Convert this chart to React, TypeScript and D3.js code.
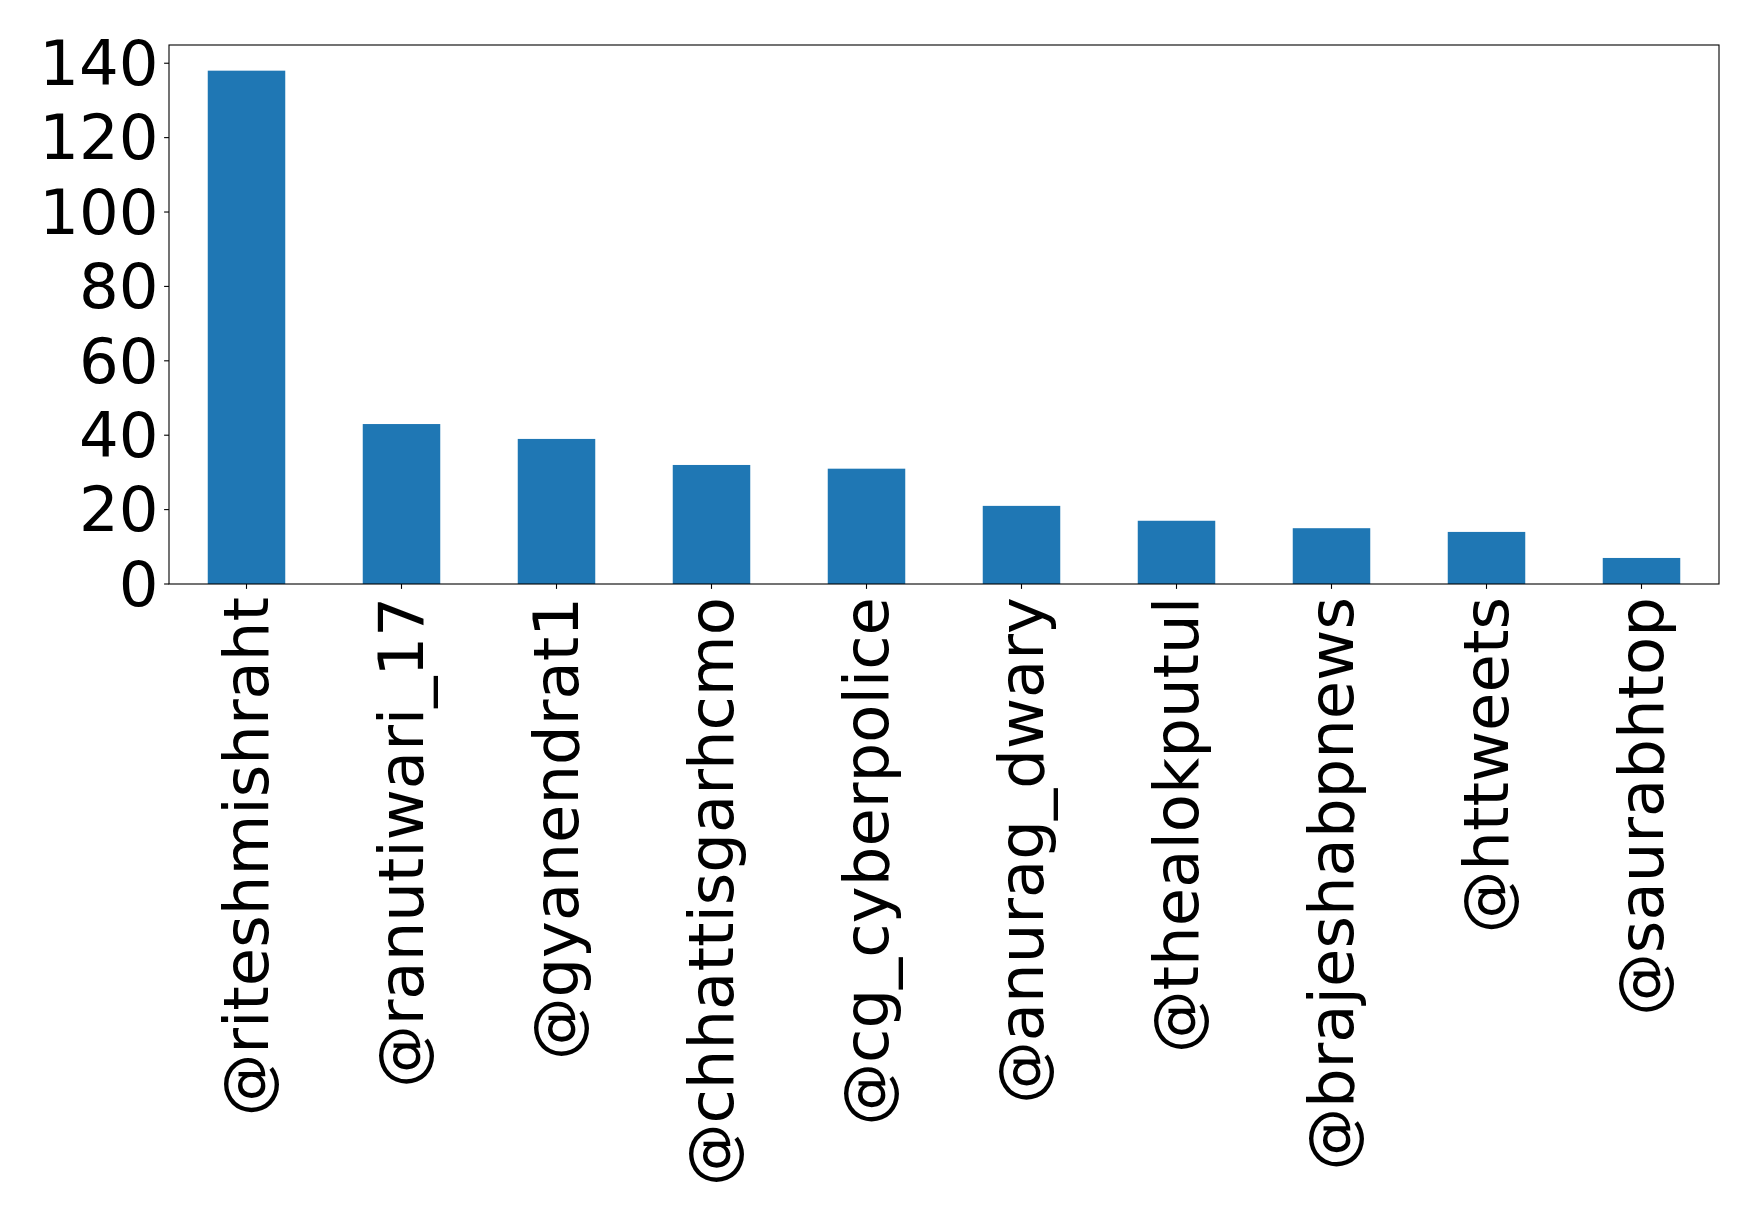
import * as d3 from 'd3'

const handles = [
  '@riteshmishraht',
  '@ranutiwari_17',
  '@gyanendrat1',
  '@chhattisgarhcmo',
  '@cg_cyberpolice',
  '@anurag_dwary',
  '@thealokputul',
  '@brajeshabpnews',
  '@httweets',
  '@saurabhtop',
]
const counts = [138, 43, 39, 32, 31, 21, 17, 15, 14, 7]
const yTicks = [0, 20, 40, 60, 80, 100, 120, 140]

const width = 1758
const height = 1222
const margin = { top: 45, right: 39, bottom: 638, left: 169 }
const font = 'DejaVu Sans, sans-serif'
const fontSize = 62.5

export default function App() {
  const innerW = width - margin.left - margin.right
  const innerH = height - margin.top - margin.bottom

  const x = d3.scaleBand<string>()
    .domain(handles)
    .range([0, innerW])
    .paddingInner(0.5)
    .paddingOuter(0.25)

  const yMax = d3.max(counts)! * 1.05
  const y = d3.scaleLinear().domain([0, yMax]).range([innerH, 0])

  return (
    <div style={{ position: 'absolute', left: 0, top: 0 }}>
      <svg width={width} height={height} style={{ display: 'block', background: '#fff' }}>
        <g transform={`translate(${margin.left},${margin.top})`}>
          {handles.map((h, i) => (
            <rect
              key={h}
              x={x(h)}
              y={y(counts[i])}
              width={x.bandwidth()}
              height={innerH - y(counts[i])}
              fill="#1f77b4"
            />
          ))}

          {yTicks.map(t => (
            <g key={t} transform={`translate(0,${y(t)})`}>
              <line x1={-4.9} x2={0} stroke="#000" strokeWidth={1.1} />
              <text
                x={-10.5}
                dy="0.35em"
                textAnchor="end"
                fontFamily={font}
                fontSize={fontSize}
                fill="#000"
              >
                {t}
              </text>
            </g>
          ))}

          {handles.map(h => {
            const cx = x(h)! + x.bandwidth() / 2
            return (
              <g key={h} transform={`translate(${cx},${innerH})`}>
                <line y1={0} y2={4.9} stroke="#000" strokeWidth={1.1} />
                <text
                  transform={`translate(0,13) rotate(-90)`}
                  dy="0.35em"
                  textAnchor="end"
                  fontFamily={font}
                  fontSize={fontSize}
                  fill="#000"
                >
                  {h}
                </text>
              </g>
            )
          })}

          <rect
            x={0}
            y={0}
            width={innerW}
            height={innerH}
            fill="none"
            stroke="#000"
            strokeWidth={1.1}
          />
        </g>
      </svg>
    </div>
  )
}
